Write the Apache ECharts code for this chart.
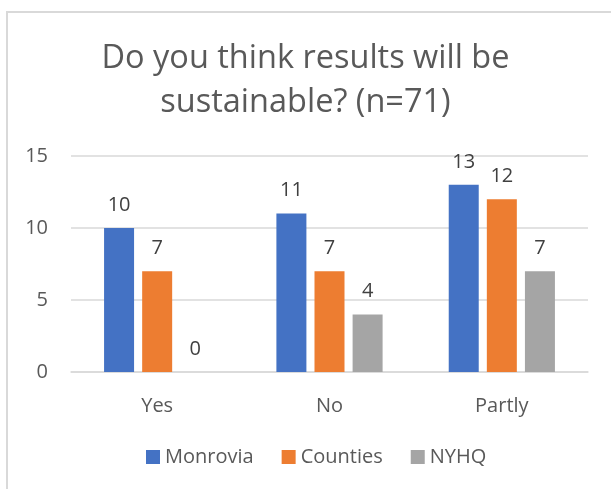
<!DOCTYPE html>
<html>
<head>
<meta charset="utf-8">
<script src="https://cdn.jsdelivr.net/npm/echarts@6/dist/echarts.min.js"></script>
<style>
  html, body { margin: 0; padding: 0; background: #fff; }
  #chart { width: 611px; height: 489px; }
</style>
</head>
<body>
<div id="chart"></div>
<script>
// Survey answers by respondent group
const categories = ['Yes', 'No', 'Partly'];
const monrovia = [10, 11, 13];
const counties = [7, 7, 12];
const nyhq = [0, 4, 7];
const yTicks = [0, 5, 10, 15];

const FONT = 'Open Sans';
const labelStyle = {
  show: true,
  position: 'top',
  distance: 13,
  color: '#404040',
  fontSize: 20,
  fontFamily: FONT
};

function barSeries(name, data, color) {
  return {
    name: name,
    type: 'bar',
    data: data,
    barWidth: 30,
    barGap: '27%',
    itemStyle: { color: color },
    label: labelStyle
  };
}

const chart = echarts.init(document.getElementById('chart'), null, { renderer: 'canvas' });
chart.setOption({
  animation: false,
  backgroundColor: '#fff',
  graphic: [{
    type: 'rect',
    shape: { x: 7, y: 12, width: 620, height: 500 },
    style: { fill: 'none', stroke: '#d9d9d9', lineWidth: 2 },
    silent: true
  }],
  title: {
    text: 'Do you think results will be\nsustainable? (n=71)',
    left: 'center',
    top: 32,
    textStyle: {
      color: '#595959',
      fontSize: 32.5,
      fontWeight: 'normal',
      fontFamily: FONT,
      lineHeight: 44
    }
  },
  legend: {
    bottom: 17,
    left: 141,
    itemWidth: 14,
    itemHeight: 14,
    itemGap: 28,
    icon: 'rect',
    textStyle: { color: '#595959', fontSize: 20, fontFamily: FONT },
    data: ['Monrovia', 'Counties', 'NYHQ']
  },
  grid: { left: 71, right: 23, top: 156, bottom: 117, containLabel: false },
  xAxis: {
    type: 'category',
    data: categories,
    axisLine: { lineStyle: { color: '#d9d9d9', width: 1.5 } },
    axisTick: { show: false },
    axisLabel: { color: '#595959', fontSize: 20, fontFamily: FONT, margin: 24 }
  },
  yAxis: {
    type: 'value',
    min: yTicks[0],
    max: yTicks[yTicks.length - 1],
    interval: yTicks[1] - yTicks[0],
    axisLine: { show: false },
    axisTick: { show: false },
    splitLine: { lineStyle: { color: '#d9d9d9', width: 1.5 } },
    axisLabel: { color: '#595959', fontSize: 20, fontFamily: FONT, margin: 23 }
  },
  series: [
    barSeries('Monrovia', monrovia, '#4472C4'),
    barSeries('Counties', counties, '#ED7D31'),
    barSeries('NYHQ', nyhq, '#A5A5A5')
  ]
});
</script>
</body>
</html>
